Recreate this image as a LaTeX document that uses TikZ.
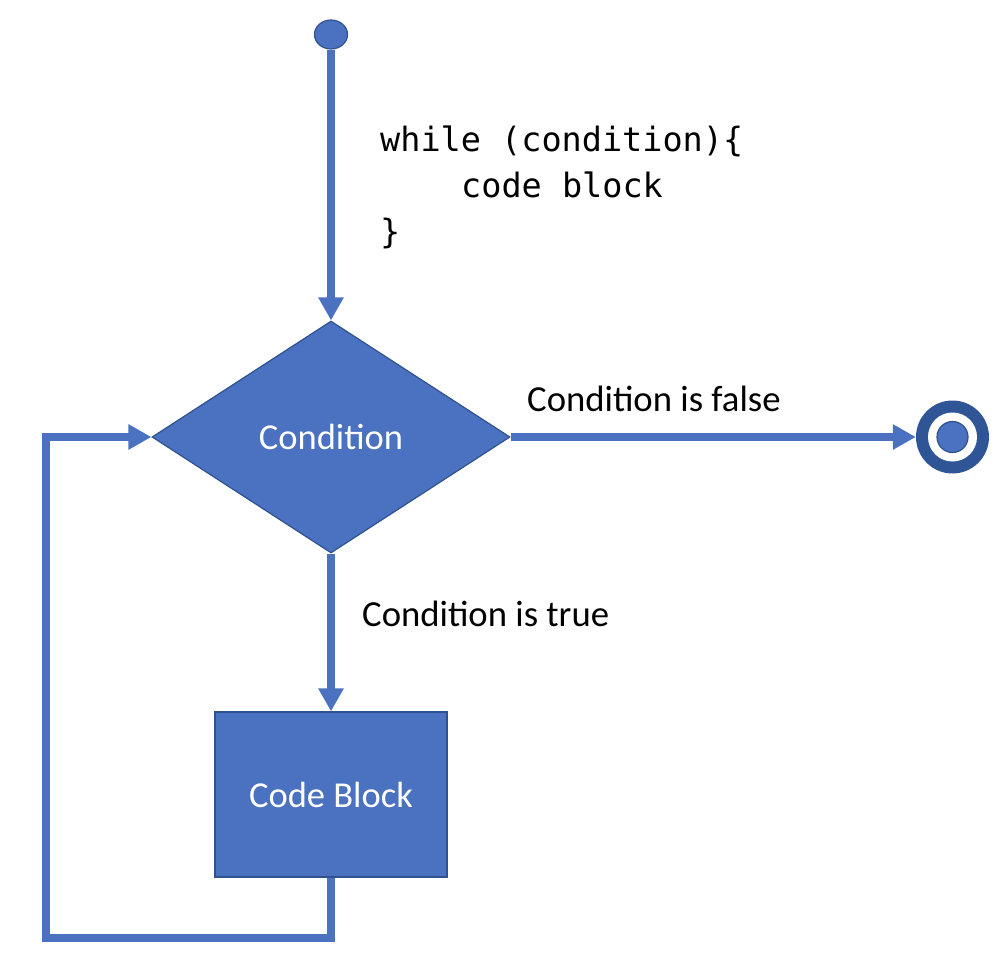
\documentclass[tikz,border=0pt]{standalone}
\usepackage{fontspec}
\setmainfont{Carlito}
\newfontfamily\codefont{DejaVu Sans Mono}
\usetikzlibrary{arrows.meta,shapes.geometric}
\definecolor{office}{HTML}{4A72C0}
\definecolor{officedark}{HTML}{2F528F}
\definecolor{ringdark}{HTML}{2F5597}
\tikzset{
  conn/.style={draw=office, line width=7.5pt},
  arr/.style={conn, -{Triangle[length=23pt,width=24pt]}},
  shapebox/.style={fill=office, draw=officedark, line width=1.2pt, text=white,
    font=\fontsize{36.5}{40}\selectfont, inner sep=0pt},
  lbl/.style={font=\fontsize{36.7}{40}\selectfont, inner sep=0pt, anchor=base west},
  code/.style={font=\codefont\fontsize{33.5}{46}\selectfont, inner sep=0pt, anchor=base west},
}
\begin{document}
\begin{tikzpicture}[x=1pt,y=-1pt]
\useasboundingbox (0,0) rectangle (1006,974);
% start
\node[ellipse, fill=office, draw=officedark, line width=1.2pt,
  minimum width=33pt, minimum height=29pt, inner sep=0pt] (start) at (331,34.5) {};
% decision
\node[diamond, shapebox, minimum width=358pt, minimum height=232pt] (dia) at (331,437) {Condition};
% code block
\node[rectangle, shapebox, minimum width=232pt, minimum height=165pt] (cb) at (331,794.5) {Code Block};
% end
\node[circle, fill=ringdark, minimum size=73pt, inner sep=0pt] (end) at (952.5,437) {};
\node[circle, fill=white, minimum size=49pt, inner sep=0pt] (endw) at (end.center) {};
\node[circle, fill=office, draw=officedark, line width=1.2pt, minimum size=31pt, inner sep=0pt] (endin) at (end.center) {};
% code text
\node[code] (c1) at (380,151) {while (condition)\{};
\node[code] (c2) at (461,197) {code block};
\node[code] (c3) at (380,243) {\}};
% labels
\node[lbl] (lf) at (527,411) {Condition is false};
\node[lbl] (lt) at (362,626) {Condition is true};
% connectors
\draw[arr] (start.south) -- (dia.north);
\draw[arr] (dia.east) -- (end.west);
\draw[arr] (dia.south) -- (cb.north);
\coordinate (loopcorner) at (46,938);
\draw[arr] (cb.south) |- (loopcorner) |- (dia.west);
\end{tikzpicture}
\end{document}
